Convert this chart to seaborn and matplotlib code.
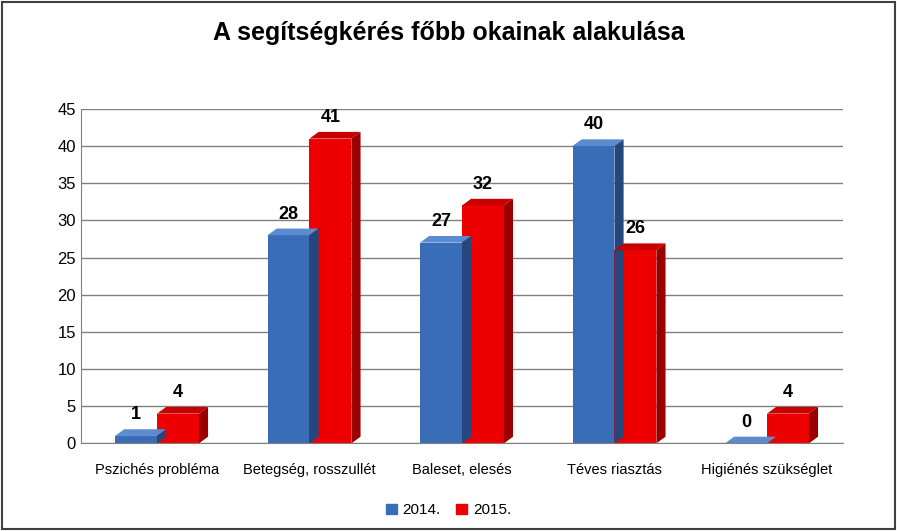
import pandas as pd
import matplotlib.pyplot as plt
import matplotlib.patches as mpatches
import seaborn as sns

plt.rcParams['font.family'] = 'Liberation Sans'

categories = ['Pszichés probléma', 'Betegség, rosszullét', 'Baleset, elesés',
              'Téves riasztás', 'Higiénés szükséglet']
values_2014 = [1, 28, 27, 40, 0]
values_2015 = [4, 41, 32, 26, 4]
series = ['2014.', '2015.']
yticks = list(range(0, 50, 5))

colors = {'2014.': '#3A6DB8', '2015.': '#EE0000'}
side_colors = {'2014.': '#23477E', '2015.': '#9A0000'}
top_colors = {'2014.': '#5B8CCF', '2015.': '#C80000'}

df = pd.DataFrame({
    'kategoria': categories * 2,
    'ev': [series[0]] * len(categories) + [series[1]] * len(categories),
    'ertek': values_2014 + values_2015,
})

fig = plt.figure(figsize=(8.97, 5.31), dpi=100)
ax = fig.add_axes([0.09, 0.165, 0.85, 0.63])
sns.barplot(data=df, x='kategoria', y='ertek', hue='ev', order=categories,
            hue_order=series, palette=colors, width=0.55, saturation=1, ax=ax,
            edgecolor='none', legend=False)

ax.set_ylim(0, 45)
ax.set_yticks(yticks)
ax.set_xlim(-0.5, len(categories) - 0.5)
ax.yaxis.grid(True, color='#808080', linewidth=1)
ax.set_axisbelow(True)
for s in ['top', 'right']:
    ax.spines[s].set_visible(False)
ax.spines['left'].set_color('#808080')
ax.spines['bottom'].set_color('#808080')
ax.tick_params(axis='both', length=0, labelsize=12)
ax.tick_params(axis='x', labelsize=10.5, pad=14)
ax.set_xlabel('')
ax.set_ylabel('')

# pseudo 3D depth derived from the drawn bars
dx, dy = 0.06, 0.9
for i, p in enumerate(list(ax.patches)):
    key = series[i // len(categories)]
    x0, w, h = p.get_x(), p.get_width(), p.get_height()
    top = mpatches.Polygon([(x0, h), (x0 + dx, h + dy), (x0 + w + dx, h + dy), (x0 + w, h)],
                           closed=True, facecolor=top_colors[key], edgecolor='none')
    side = mpatches.Polygon([(x0 + w, 0), (x0 + w + dx, dy), (x0 + w + dx, h + dy), (x0 + w, h)],
                            closed=True, facecolor=side_colors[key], edgecolor='none')
    ax.add_patch(top)
    ax.add_patch(side)
    ax.text(x0 + w / 2, h + dy + 0.8, f'{int(h)}', ha='center', va='bottom',
            fontsize=13, fontweight='bold')

fig.suptitle('A segítségkérés főbb okainak alakulása', fontsize=18, fontweight='bold', y=0.96)

handles = [mpatches.Patch(color=colors[s], label=s) for s in series]
fig.legend(handles=handles, loc='lower center', ncol=2, frameon=False,
           fontsize=11, bbox_to_anchor=(0.5, 0.0), handlelength=0.7, handleheight=0.7,
           columnspacing=1.0, handletextpad=0.4)

border = mpatches.Rectangle((0.002, 0.003), 0.996, 0.994, transform=fig.transFigure,
                            fill=False, edgecolor='#404040', linewidth=1.5)
fig.patches.append(border)

fig.savefig('out.png', dpi=100)
